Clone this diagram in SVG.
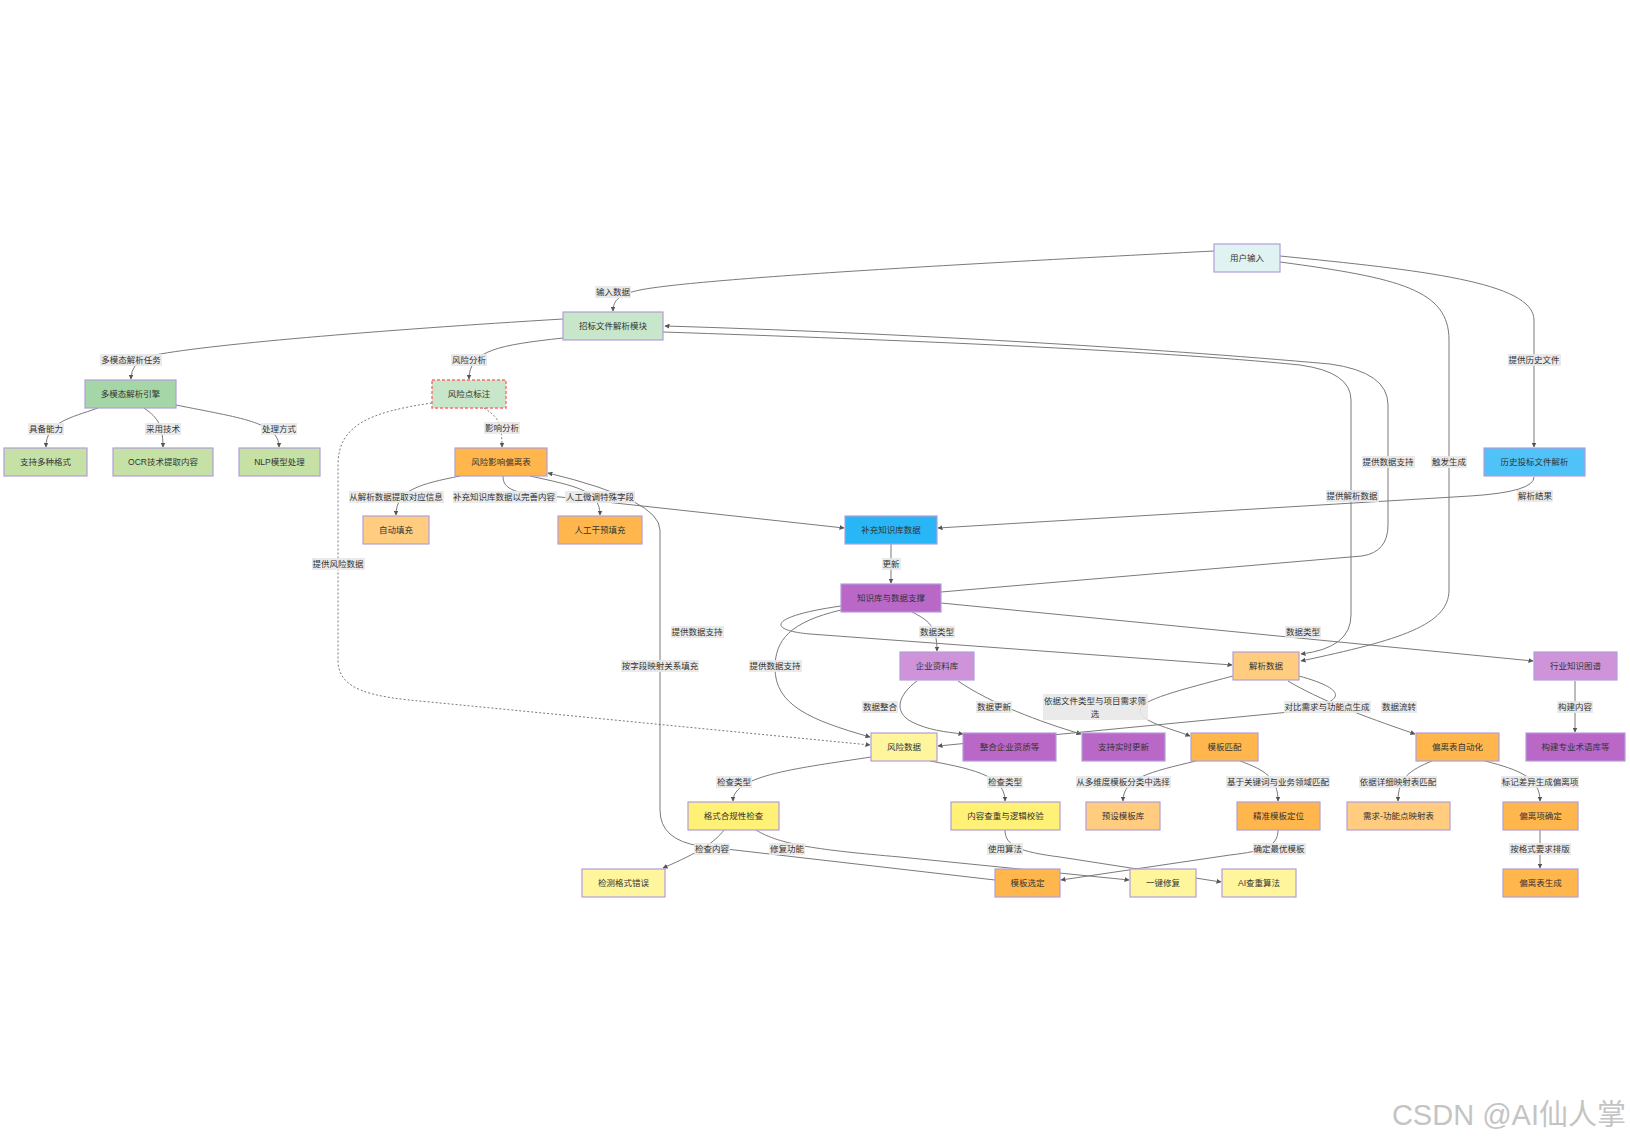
<svg xmlns="http://www.w3.org/2000/svg" width="1630" height="1142" viewBox="0 0 1630 1142">
<style>
.bg{fill:#ffffff}
.n rect{stroke:#b39ddb;stroke-width:1.2}
.t{font-family:'Liberation Sans','Noto Sans CJK SC',sans-serif;font-size:8.5px;fill:#333;text-anchor:middle;dominant-baseline:central}
.e{fill:none;stroke:#7a7a7a;stroke-width:1;marker-end:url(#arr)}
.d{stroke-dasharray:2,2}
.lb rect{fill:#e8e8e8;opacity:0.9}
.wm{font-family:'Liberation Sans','Noto Sans CJK SC',sans-serif;font-size:29px;fill:#c4c4c4;text-anchor:end}
</style>
<defs>
<marker id="arr" viewBox="0 0 10 10" refX="9" refY="5" markerWidth="5" markerHeight="5" markerUnits="userSpaceOnUse" orient="auto">
<path d="M0,0 L10,5 L0,10 z" fill="#555"/>
</marker>
</defs>
<rect class="bg" x="0" y="0" width="1630" height="1142"/>
<g id="edges">
<path class="e" d="M1214,251 C1000,262 700,278 640,290 C620,294 613,300 613,311"/>
<path class="e" d="M1280,256 C1420,270 1534,282 1534,320 L1534,447"/>
<path class="e" d="M1280,262 C1400,278 1449,290 1449,340 L1449,590 C1449,625 1400,640 1301,661"/>
<path class="e" d="M663,332 C900,340 1150,350 1300,365 Q1351,372 1351,400 L1351,615 Q1351,648 1301,654"/>
<path class="e" d="M941,592 L1362,556 Q1388,552 1388,525 L1388,405 Q1388,372 1330,364 C1150,348 900,333 665,326"/>
<path class="e" d="M563,319 C380,330 200,345 150,356 Q131,362 131,379"/>
<path class="e" d="M563,338 C500,345 469,350 469,379"/>
<path class="e" d="M98,408 C70,418 46,422 46,447"/>
<path class="e" d="M144,408 C155,416 163,422 163,447"/>
<path class="e" d="M176,405 C240,418 279,422 279,447"/>
<path class="e d" d="M484,408 C496,416 502,420 502,447"/>
<path class="e d" d="M432,403 C370,412 338,425 338,465 L338,660 C338,690 370,697 430,702 L870,745"/>
<path class="e" d="M460,476 C420,484 396,490 396,515"/>
<path class="e" d="M503,476 C503,490 515,494 560,497 L844,528"/>
<path class="e" d="M530,476 C575,486 600,490 600,515"/>
<path class="e" d="M995,880 L700,846 Q660,840 660,810 L660,530 Q660,500 548,473"/>
<path class="e" d="M1534,477 Q1534,492 1470,496 L938,528"/>
<path class="e" d="M891,544 L891,583"/>
<path class="e" d="M912,612 C928,620 937,626 937,651"/>
<path class="e" d="M941,603 L1533,661"/>
<path class="e" d="M841,606 C770,616 765,630 810,634 L1232,665"/>
<path class="e" d="M841,610 C790,622 775,640 775,668 C775,705 810,720 870,737"/>
<path class="e" d="M917,681 C898,695 893,712 912,722 C928,730 945,732 963,734"/>
<path class="e" d="M958,681 C990,703 1040,722 1081,734"/>
<path class="e" d="M1299,676 C1350,690 1348,703 1290,712 L938,746"/>
<path class="e" d="M1288,681 C1320,700 1360,715 1415,734"/>
<path class="e" d="M1233,676 C1180,690 1140,700 1140,710 C1140,722 1170,728 1190,736"/>
<path class="e" d="M1575,681 L1575,732"/>
<path class="e" d="M871,757 C800,768 733,775 733,801"/>
<path class="e" d="M930,761 C980,770 1005,778 1005,801"/>
<path class="e" d="M724,830 C715,842 700,852 663,868"/>
<path class="e" d="M756,830 C780,845 820,850 900,857 L1129,880"/>
<path class="e" d="M1005,830 C1005,846 1020,852 1060,857 L1221,882"/>
<path class="e" d="M1278,830 C1278,846 1265,851 1230,855 L1061,880"/>
<path class="e" d="M1196,761 C1150,772 1123,778 1123,801"/>
<path class="e" d="M1240,761 C1265,770 1278,778 1278,801"/>
<path class="e" d="M1432,761 C1410,770 1398,778 1398,801"/>
<path class="e" d="M1485,761 C1520,770 1540,778 1540,801"/>
<path class="e" d="M1540,830 L1540,868"/>
</g>
<g id="edge-labels">
<g class="lb"><rect x="595" y="286" width="36" height="12"/><text class="t" x="613" y="292">输入数据</text></g>
<g class="lb"><rect x="100" y="354" width="62" height="12"/><text class="t" x="131" y="360">多模态解析任务</text></g>
<g class="lb"><rect x="451" y="354" width="36" height="12"/><text class="t" x="469" y="360">风险分析</text></g>
<g class="lb"><rect x="28" y="423" width="36" height="12"/><text class="t" x="46" y="429">具备能力</text></g>
<g class="lb"><rect x="145" y="423" width="36" height="12"/><text class="t" x="163" y="429">采用技术</text></g>
<g class="lb"><rect x="261" y="423" width="36" height="12"/><text class="t" x="279" y="429">处理方式</text></g>
<g class="lb"><rect x="484" y="422" width="36" height="12"/><text class="t" x="502" y="428">影响分析</text></g>
<g class="lb"><rect x="1508" y="354" width="53" height="12"/><text class="t" x="1534" y="360">提供历史文件</text></g>
<g class="lb"><rect x="1362" y="456" width="53" height="12"/><text class="t" x="1388" y="462">提供数据支持</text></g>
<g class="lb"><rect x="1431" y="456" width="36" height="12"/><text class="t" x="1449" y="462">触发生成</text></g>
<g class="lb"><rect x="1326" y="490" width="53" height="12"/><text class="t" x="1352" y="496">提供解析数据</text></g>
<g class="lb"><rect x="1517" y="490" width="36" height="12"/><text class="t" x="1535" y="496">解析结果</text></g>
<g class="lb"><rect x="349" y="491" width="95" height="12"/><text class="t" x="396" y="497">从解析数据提取对应信息</text></g>
<g class="lb"><rect x="453" y="491" width="104" height="12"/><text class="t" x="504" y="497">补充知识库数据以完善内容</text></g>
<g class="lb"><rect x="565" y="491" width="70" height="12"/><text class="t" x="600" y="497">人工微调特殊字段</text></g>
<g class="lb"><rect x="312" y="558" width="53" height="12"/><text class="t" x="338" y="564">提供风险数据</text></g>
<g class="lb"><rect x="882" y="558" width="19" height="12"/><text class="t" x="891" y="564">更新</text></g>
<g class="lb"><rect x="671" y="626" width="53" height="12"/><text class="t" x="697" y="632">提供数据支持</text></g>
<g class="lb"><rect x="919" y="626" width="36" height="12"/><text class="t" x="937" y="632">数据类型</text></g>
<g class="lb"><rect x="1285" y="626" width="36" height="12"/><text class="t" x="1303" y="632">数据类型</text></g>
<g class="lb"><rect x="621" y="660" width="78" height="12"/><text class="t" x="660" y="666">按字段映射关系填充</text></g>
<g class="lb"><rect x="749" y="660" width="53" height="12"/><text class="t" x="775" y="666">提供数据支持</text></g>
<g class="lb"><rect x="862" y="701" width="36" height="12"/><text class="t" x="880" y="707">数据整合</text></g>
<g class="lb"><rect x="976" y="701" width="36" height="12"/><text class="t" x="994" y="707">数据更新</text></g>
<g class="lb"><rect x="1043" y="694" width="105" height="26"/><text class="t" x="1095" y="701">依据文件类型与项目需求筛</text><text class="t" x="1095" y="714">选</text></g>
<g class="lb"><rect x="1284" y="701" width="87" height="12"/><text class="t" x="1327" y="707">对比需求与功能点生成</text></g>
<g class="lb"><rect x="1381" y="701" width="36" height="12"/><text class="t" x="1399" y="707">数据流转</text></g>
<g class="lb"><rect x="1557" y="701" width="36" height="12"/><text class="t" x="1575" y="707">构建内容</text></g>
<g class="lb"><rect x="716" y="776" width="36" height="12"/><text class="t" x="734" y="782">检查类型</text></g>
<g class="lb"><rect x="987" y="776" width="36" height="12"/><text class="t" x="1005" y="782">检查类型</text></g>
<g class="lb"><rect x="1076" y="776" width="95" height="12"/><text class="t" x="1123" y="782">从多维度模板分类中选择</text></g>
<g class="lb"><rect x="1226" y="776" width="104" height="12"/><text class="t" x="1278" y="782">基于关键词与业务领域匹配</text></g>
<g class="lb"><rect x="1359" y="776" width="78" height="12"/><text class="t" x="1398" y="782">依据详细映射表匹配</text></g>
<g class="lb"><rect x="1501" y="776" width="78" height="12"/><text class="t" x="1540" y="782">标记差异生成偏离项</text></g>
<g class="lb"><rect x="694" y="843" width="36" height="12"/><text class="t" x="712" y="849">检查内容</text></g>
<g class="lb"><rect x="769" y="843" width="36" height="12"/><text class="t" x="787" y="849">修复功能</text></g>
<g class="lb"><rect x="987" y="843" width="36" height="12"/><text class="t" x="1005" y="849">使用算法</text></g>
<g class="lb"><rect x="1253" y="843" width="53" height="12"/><text class="t" x="1279" y="849">确定最优模板</text></g>
<g class="lb"><rect x="1509" y="843" width="62" height="12"/><text class="t" x="1540" y="849">按格式要求排版</text></g>
</g>
<g id="n-user" class="n"><rect x="1214" y="244" width="66" height="28" fill="#e0f2f1"/><text class="t" x="1247" y="258">用户输入</text></g>
<g id="n-parse" class="n"><rect x="563" y="312" width="100" height="28" fill="#c8e6c9"/><text class="t" x="613" y="326">招标文件解析模块</text></g>
<g id="n-multi" class="n"><rect x="85" y="380" width="91" height="28" fill="#a5d6a7"/><text class="t" x="130.5" y="394">多模态解析引擎</text></g>
<g id="n-risk" class="n"><rect x="432" y="380" width="74" height="28" fill="#c8e6c9" style="stroke:#ff6b6b;stroke-dasharray:3,2;stroke-width:1.4"/><text class="t" x="469" y="394">风险点标注</text></g>
<g id="n-fmt" class="n"><rect x="4" y="448" width="83" height="28" fill="#c5e1a5"/><text class="t" x="45.5" y="462">支持多种格式</text></g>
<g id="n-ocr" class="n"><rect x="113" y="448" width="100" height="28" fill="#c5e1a5"/><text class="t" x="163" y="462">OCR技术提取内容</text></g>
<g id="n-nlp" class="n"><rect x="239" y="448" width="81" height="28" fill="#c5e1a5"/><text class="t" x="279.5" y="462">NLP模型处理</text></g>
<g id="n-dev" class="n"><rect x="455" y="448" width="92" height="28" fill="#ffb74d"/><text class="t" x="501" y="462">风险影响偏离表</text></g>
<g id="n-hist" class="n"><rect x="1484" y="448" width="101" height="28" fill="#4fc3f7"/><text class="t" x="1534.5" y="462">历史投标文件解析</text></g>
<g id="n-auto" class="n"><rect x="363" y="516" width="66" height="28" fill="#ffcc80"/><text class="t" x="396" y="530">自动填充</text></g>
<g id="n-manual" class="n"><rect x="558" y="516" width="84" height="28" fill="#ffb74d"/><text class="t" x="600" y="530">人工干预填充</text></g>
<g id="n-supp" class="n"><rect x="845" y="516" width="92" height="28" fill="#29b6f6"/><text class="t" x="891" y="530">补充知识库数据</text></g>
<g id="n-kb" class="n"><rect x="841" y="584" width="100" height="28" fill="#ba68c8"/><text class="t" x="891" y="598">知识库与数据支撑</text></g>
<g id="n-ent" class="n"><rect x="900" y="652" width="74" height="28" fill="#ce93d8"/><text class="t" x="937" y="666">企业资料库</text></g>
<g id="n-pdata" class="n"><rect x="1233" y="652" width="66" height="28" fill="#ffcc80"/><text class="t" x="1266" y="666">解析数据</text></g>
<g id="n-graph" class="n"><rect x="1534" y="652" width="83" height="28" fill="#ce93d8"/><text class="t" x="1575.5" y="666">行业知识图谱</text></g>
<g id="n-rdata" class="n"><rect x="871" y="733" width="66" height="28" fill="#fff59d"/><text class="t" x="904" y="747">风险数据</text></g>
<g id="n-qual" class="n"><rect x="963" y="733" width="93" height="28" fill="#ba68c8"/><text class="t" x="1009.5" y="747">整合企业资质等</text></g>
<g id="n-rt" class="n"><rect x="1082" y="733" width="83" height="28" fill="#ba68c8"/><text class="t" x="1123.5" y="747">支持实时更新</text></g>
<g id="n-tmatch" class="n"><rect x="1191" y="733" width="67" height="28" fill="#ffb74d"/><text class="t" x="1224.5" y="747">模板匹配</text></g>
<g id="n-devauto" class="n"><rect x="1416" y="733" width="83" height="28" fill="#ffb74d"/><text class="t" x="1457.5" y="747">偏离表自动化</text></g>
<g id="n-term" class="n"><rect x="1526" y="733" width="99" height="28" fill="#ba68c8"/><text class="t" x="1575.5" y="747">构建专业术语库等</text></g>
<g id="n-fcheck" class="n"><rect x="688" y="802" width="91" height="28" fill="#fff176"/><text class="t" x="733.5" y="816">格式合规性检查</text></g>
<g id="n-ccheck" class="n"><rect x="951" y="802" width="109" height="28" fill="#fff176"/><text class="t" x="1005.5" y="816">内容查重与逻辑校验</text></g>
<g id="n-tlib" class="n"><rect x="1086" y="802" width="74" height="28" fill="#ffcc80"/><text class="t" x="1123" y="816">预设模板库</text></g>
<g id="n-tloc" class="n"><rect x="1237" y="802" width="83" height="28" fill="#ffb74d"/><text class="t" x="1278.5" y="816">精准模板定位</text></g>
<g id="n-map" class="n"><rect x="1347" y="802" width="103" height="28" fill="#ffcc80"/><text class="t" x="1398.5" y="816">需求-功能点映射表</text></g>
<g id="n-ditem" class="n"><rect x="1503" y="802" width="75" height="28" fill="#ffb74d"/><text class="t" x="1540.5" y="816">偏离项确定</text></g>
<g id="n-ferr" class="n"><rect x="582" y="869" width="83" height="28" fill="#fff59d"/><text class="t" x="623.5" y="883">检测格式错误</text></g>
<g id="n-tsel" class="n"><rect x="995" y="869" width="65" height="28" fill="#ffb74d"/><text class="t" x="1027.5" y="883">模板选定</text></g>
<g id="n-fix" class="n"><rect x="1130" y="869" width="66" height="28" fill="#fff59d"/><text class="t" x="1163" y="883">一键修复</text></g>
<g id="n-ai" class="n"><rect x="1222" y="869" width="74" height="28" fill="#fff59d"/><text class="t" x="1259" y="883">AI查重算法</text></g>
<g id="n-dgen" class="n"><rect x="1503" y="869" width="75" height="28" fill="#ffb74d"/><text class="t" x="1540.5" y="883">偏离表生成</text></g>
<text class="wm" x="1626" y="1125">CSDN @AI仙人掌</text>
</svg>
